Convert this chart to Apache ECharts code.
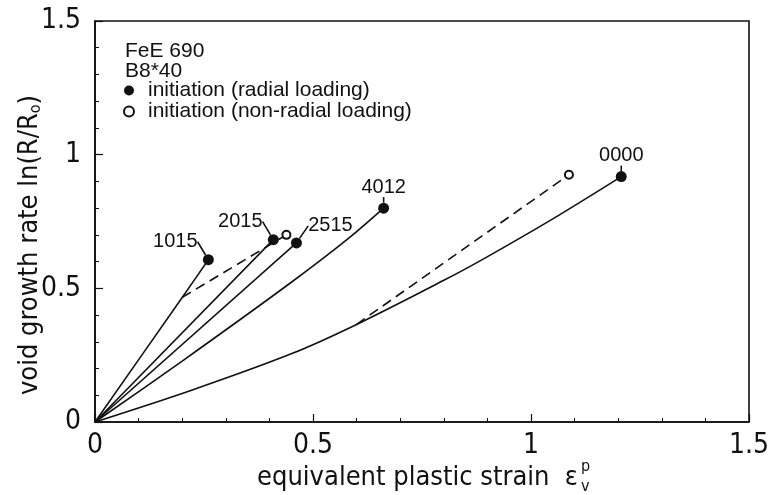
<!DOCTYPE html>
<html>
<head>
<meta charset="utf-8">
<script src="https://cdn.jsdelivr.net/npm/echarts@6/dist/echarts.min.js"></script>
<style>
  html, body { margin: 0; padding: 0; background: #fff; }
  #main { width: 773px; height: 495px; }
</style>
</head>
<body>
<div id="main"></div>
<script>
// curves: [strain, ln(R/R0)]
var line1015 = [[0, 0], [0.2, 0.466], [0.26, 0.607]];
var line2015 = [[0, 0], [0.409, 0.682]];
var line2515 = [[0, 0], [0.462, 0.670]];
var line4012 = [[0, 0], [0.2, 0.228], [0.448, 0.52], [0.58, 0.685], [0.662, 0.80]];
var line0000 = [[0, 0], [0.22, 0.118], [0.45, 0.255], [0.6, 0.365], [0.8, 0.53], [0.88, 0.6], [1.05, 0.76], [1.207, 0.918]];
var dash1015 = [[0.2, 0.466], [0.439, 0.70]];
var dash0000 = [[0.6, 0.365], [1.087, 0.925]];

var caseNames = ['1015', '2015', '2515', '4012', '0000'];
var radialInit = [[0.26, 0.607], [0.409, 0.682], [0.462, 0.670], [0.662, 0.80], [1.207, 0.918]];
var nonRadialInit = [[0.439, 0.70], [1.087, 0.925]];
var xTicks = [0, 0.5, 1, 1.5];
var yTicks = [0, 0.5, 1, 1.5];

// where each case label sits relative to its marker (px)
var labelShift = [[-33, -18], [-33, -18], [34, -17], [0, -21], [0, -21]];

var ink = '#111';
var narrow = '"Liberation Sans Narrow", "DejaVu Sans Condensed", "Liberation Sans", sans-serif';
var sans = '"Liberation Sans", Arial, sans-serif';

var myChart = echarts.init(document.getElementById('main'));

function solid(data) {
    return {
        type: 'line', data: data, showSymbol: false, silent: true, smooth: 0.3,
        lineStyle: { color: ink, width: 1.6 }, z: 2
    };
}
function dashed(data) {
    return {
        type: 'line', data: data, showSymbol: false, silent: true,
        lineStyle: { color: ink, width: 1.6, type: [10, 6] }, z: 2
    };
}

function axis(ticks, margin) {
    return {
        type: 'value',
        min: ticks[0],
        max: ticks[ticks.length - 1],
        interval: ticks[1] - ticks[0],
        axisLine: { show: true, lineStyle: { color: ink, width: 1.6 } },
        axisTick: { show: true, inside: true, length: 8, lineStyle: { color: ink, width: 1.2 } },
        minorTick: { show: true, splitNumber: 5, length: 4, lineStyle: { color: ink, width: 1 } },
        splitLine: { show: false },
        axisLabel: {
            margin: margin, fontSize: 28, color: ink, fontFamily: narrow,
            formatter: function (v) { return String(v); }
        }
    };
}

option = {
    animation: false,
    backgroundColor: '#fff',
    grid: {
        left: 95, right: 24, top: 21, bottom: 73,
        show: true, borderColor: ink, borderWidth: 1.6
    },
    xAxis: axis(xTicks, 10),
    yAxis: axis(yTicks, 14),
    legend: {
        orient: 'vertical',
        left: 123, top: 80,
        padding: 0, itemGap: 0,
        itemWidth: 28, itemHeight: 10,
        textStyle: { fontSize: 21, lineHeight: 20, color: ink, fontFamily: sans },
        data: [
            { name: 'initiation (radial loading)', icon: 'circle' },
            { name: 'initiation (non-radial loading)', icon: 'circle' }
        ]
    },
    graphic: [
        { type: 'text', left: 125, top: 41, style: { text: 'FeE 690', font: '21px ' + sans, fill: ink } },
        { type: 'text', left: 125, top: 61, style: { text: 'B8*40', font: '21px ' + sans, fill: ink } },
        {
            type: 'text', x: 578, y: 478,
            style: {
                text: 'equivalent plastic strain  ε',
                font: '27px ' + narrow, fill: ink, align: 'right', verticalAlign: 'middle'
            }
        },
        { type: 'text', x: 581, y: 487, style: { text: 'v', font: '16px ' + narrow, fill: ink, verticalAlign: 'middle' } },
        { type: 'text', x: 581, y: 467, style: { text: 'p', font: '16px ' + narrow, fill: ink, verticalAlign: 'middle' } },
        {
            type: 'text', x: 30, y: 245, rotation: Math.PI / 2,
            style: {
                text: 'void growth rate ln(R/R{o|o})',
                font: '27px ' + narrow, fill: ink, align: 'center', verticalAlign: 'middle',
                rich: { o: { fontSize: 16, fontFamily: narrow, verticalAlign: 'bottom', lineHeight: 14 } }
            }
        }
    ],
    series: [
        solid(line1015), solid(line2015), solid(line2515), solid(line4012), solid(line0000),
        dashed(dash1015), dashed(dash0000),
        {
            name: 'initiation (radial loading)',
            type: 'scatter',
            symbol: 'circle', symbolSize: 11,
            itemStyle: { color: ink, opacity: 1 },
            data: radialInit.map(function (p, i) { return { value: p, name: caseNames[i] }; }),
            label: {
                show: true, position: 'inside', formatter: '{b}',
                fontSize: 20, color: ink, fontFamily: sans
            },
            labelLayout: function (params) {
                var s = labelShift[params.dataIndex];
                return { dx: s[0], dy: s[1] };
            },
            labelLine: { show: true, lineStyle: { color: ink, width: 1.6 } },
            z: 4
        },
        {
            name: 'initiation (non-radial loading)',
            type: 'scatter',
            symbol: 'circle', symbolSize: 8,
            itemStyle: { color: '#fff', borderColor: ink, borderWidth: 2, opacity: 1 },
            data: nonRadialInit,
            z: 4
        }
    ]
};

myChart.setOption(option);
</script>
</body>
</html>
